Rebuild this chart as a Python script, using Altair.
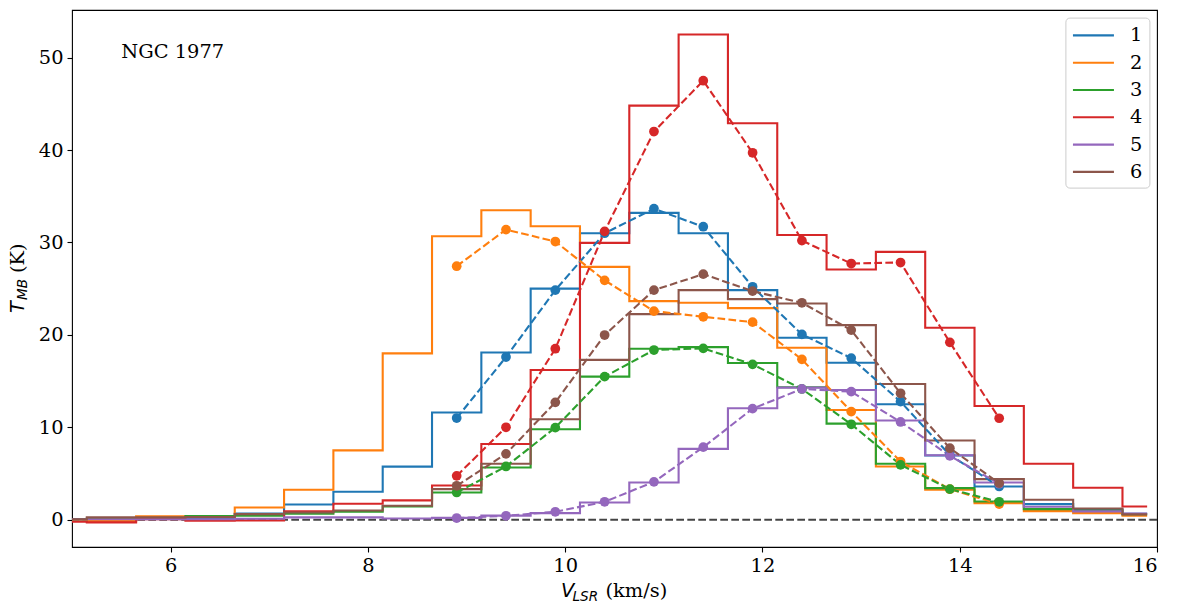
import altair as alt
import pandas as pd

# ---------------- data ----------------
series_names = ["1", "2", "3", "4", "5", "6"]
colors = ["#1f77b4", "#ff7f0e", "#2ca02c", "#d62728", "#9467bd", "#8c564b"]

# channel centres of the spectra (km/s)
v_centers = [4.9, 5.4, 5.9, 6.4, 6.9, 7.4, 7.9, 8.4, 8.9, 9.4, 9.9, 10.4,
             10.9, 11.4, 11.9, 12.4, 12.9, 13.4, 13.9, 14.4, 14.9, 15.4, 15.9]

spec_1 = [0.05, 0.1, 0.1, 0.15, 0.68, 1.65, 3.02, 5.75, 11.6, 18.1, 25.0, 31.0,
          33.2, 31.0, 24.84, 19.69, 16.99, 12.49, 6.95, 3.6, 1.69, 1.1, 0.65]
spec_2 = [0.0, -0.15, 0.36, 0.3, 1.33, 3.24, 7.5, 18.0, 30.67, 33.48, 31.75, 27.36,
          23.65, 23.47, 22.9, 18.6, 11.88, 5.76, 3.24, 1.8, 0.93, 0.72, 0.43]
spec_3 = [0.05, 0.1, 0.15, 0.4, 0.43, 0.65, 0.86, 1.45, 2.95, 5.65, 9.79, 15.48,
          18.5, 18.68, 16.95, 14.33, 10.4, 6.05, 3.42, 1.98, 1.15, 1.0, 0.6]
spec_4 = [-0.22, -0.29, 0.07, -0.11, -0.07, 0.9, 1.73, 2.09, 3.7, 8.2, 16.2, 29.95,
          44.8, 52.5, 42.9, 30.8, 27.07, 28.98, 20.77, 12.31, 6.05, 3.46, 1.44]
spec_5 = [0.05, 0.05, 0.05, 0.05, 0.1, 0.25, 0.25, 0.14, 0.2, 0.45, 0.72, 1.87,
          4.03, 7.67, 12.06, 14.29, 14.04, 10.73, 6.98, 4.03, 1.4, 0.9, 0.68]
spec_6 = [0.05, 0.25, 0.25, 0.3, 0.61, 0.79, 1.0, 1.51, 3.31, 6.05, 10.87, 17.3,
          22.25, 24.84, 23.87, 23.4, 21.06, 14.69, 8.57, 4.39, 2.16, 1.22, 0.58]

# fitted / smoothed profiles (dashed with markers)
v_fit = [8.9, 9.4, 9.9, 10.4, 10.9, 11.4, 11.9, 12.4, 12.9, 13.4, 13.9, 14.4]

fit_1 = [11.0, 17.6, 24.84, 31.0, 33.65, 31.7, 25.2, 20.05, 17.49, 12.78, 7.0, 3.6]
fit_2 = [27.43, 31.39, 30.1, 25.9, 22.57, 21.96, 21.38, 17.35, 11.7, 6.3, 3.3, 1.7]
fit_3 = [2.95, 5.76, 9.97, 15.48, 18.36, 18.54, 16.81, 14.15, 10.33, 5.94, 3.31, 1.94]
fit_4 = [4.75, 10.0, 18.5, 31.2, 42.0, 47.5, 39.7, 30.2, 27.72, 27.83, 19.19, 10.98]
fit_5 = [0.18, 0.43, 0.86, 1.94, 4.1, 7.85, 12.02, 14.15, 13.86, 10.58, 6.91, 3.9]
fit_6 = [3.67, 7.13, 12.7, 19.98, 24.84, 26.57, 24.73, 23.47, 20.52, 13.68, 7.74, 3.96]

x_ticks = [6, 8, 10, 12, 14, 16]
y_ticks = [0, 10, 20, 30, 40, 50]
label_text = "NGC 1977"

# ---------------- tables ----------------
specs = [spec_1, spec_2, spec_3, spec_4, spec_5, spec_6]
fits = [fit_1, fit_2, fit_3, fit_4, fit_5, fit_6]

spec_rows = []
for name, vals in zip(series_names, specs):
    for i, (v, t) in enumerate(zip(v_centers, vals)):
        spec_rows.append({"series": name, "v": v, "T": t, "order": i})
spec_df = pd.DataFrame(spec_rows)

fit_rows = []
for name, vals in zip(series_names, fits):
    for i, (v, t) in enumerate(zip(v_fit, vals)):
        fit_rows.append({"series": name, "v": v, "T": t, "order": i})
fit_df = pd.DataFrame(fit_rows)

FONT_SERIF = "DejaVu Serif"
FS = 19.4
LW = 2.1
DASH = [7.7, 3.3]

W, H = 1085, 537

xscale = alt.Scale(domain=[5, 16], nice=False, zero=False)
yscale = alt.Scale(domain=[-2.95, 55.15], nice=False, zero=False)

x_axis = alt.Axis(values=x_ticks, format="d", title=None, grid=False, domain=False,
                  tickSize=5, tickWidth=1.1, tickColor="black",
                  labelFont=FONT_SERIF, labelFontSize=FS, labelColor="black",
                  labelPadding=4)
y_axis = alt.Axis(values=y_ticks, format="d", title=None, grid=False, domain=False,
                  tickSize=5, tickWidth=1.1, tickColor="black",
                  labelFont=FONT_SERIF, labelFontSize=FS, labelColor="black",
                  labelPadding=4)

color_legend = alt.Legend(
    title=None, orient="none", legendX=993.4, legendY=7.6,
    symbolType="M-2,0L2,0", symbolSize=420, symbolStrokeWidth=LW,
    symbolOffset=10.25, labelOffset=25,
    labelFont=FONT_SERIF, labelFontSize=FS, labelColor="black",
    padding=6.3, rowPadding=6.3,
    strokeColor="#cccccc", fillColor="rgba(255,255,255,0.8)", cornerRadius=4,
)

steps = alt.Chart(spec_df).mark_line(interpolate="step", strokeWidth=LW, clip=True).encode(
    x=alt.X("v:Q", scale=xscale, axis=x_axis),
    y=alt.Y("T:Q", scale=yscale, axis=y_axis),
    color=alt.Color("series:N", scale=alt.Scale(domain=series_names, range=colors),
                    legend=color_legend),
    order="order:Q",
)

fit_lines = alt.Chart(fit_df).mark_line(strokeDash=DASH, strokeWidth=LW, clip=True).encode(
    x=alt.X("v:Q", scale=xscale, axis=x_axis),
    y=alt.Y("T:Q", scale=yscale, axis=y_axis),
    color=alt.Color("series:N", scale=alt.Scale(domain=series_names, range=colors),
                    legend=None),
    order="order:Q",
)

fit_points = alt.Chart(fit_df).mark_circle(size=95, opacity=1, clip=True).encode(
    x=alt.X("v:Q", scale=xscale, axis=x_axis),
    y=alt.Y("T:Q", scale=yscale, axis=y_axis),
    color=alt.Color("series:N", scale=alt.Scale(domain=series_names, range=colors),
                    legend=None),
)

zero_line = alt.Chart().mark_rule(strokeDash=DASH, strokeWidth=1.8, color="#444444").encode(
    y=alt.datum(0, scale=yscale, axis=y_axis),
)

name_text = alt.Chart().mark_text(text=label_text, align="left", baseline="alphabetic",
                                  font=FONT_SERIF, fontSize=FS, color="black").encode(
    x=alt.datum(5.5, axis=x_axis), y=alt.datum(50, axis=y_axis),
)

# axis titles (mathtext-style subscripts)
xt_v = alt.Chart().mark_text(text="V", align="left", baseline="alphabetic", font="DejaVu Sans",
                             fontStyle="italic", fontSize=FS, color="black").encode(
    x=alt.value(489.0), y=alt.value(587.3))
xt_sub = alt.Chart().mark_text(text="LSR", align="left", baseline="alphabetic", font="DejaVu Sans",
                               fontStyle="italic", fontSize=13.6, color="black").encode(
    x=alt.value(500.5), y=alt.value(590.7))
xt_unit = alt.Chart().mark_text(text="(km/s)", align="left", baseline="alphabetic", font=FONT_SERIF,
                                fontSize=FS, color="black").encode(
    x=alt.value(533.5), y=alt.value(587.3))

yt_t = alt.Chart().mark_text(text="T", align="left", baseline="alphabetic", angle=270,
                             font="DejaVu Sans", fontStyle="italic", fontSize=FS,
                             color="black").encode(x=alt.value(-48.0), y=alt.value(303.0))
yt_sub = alt.Chart().mark_text(text="MB", align="left", baseline="alphabetic", angle=270,
                               font="DejaVu Sans", fontStyle="italic", fontSize=13.6,
                               color="black").encode(x=alt.value(-44.6), y=alt.value(290.0))
yt_unit = alt.Chart().mark_text(text="(K)", align="left", baseline="alphabetic", angle=270,
                                font=FONT_SERIF, fontSize=FS,
                                color="black").encode(x=alt.value(-48.0), y=alt.value(263.0))

chart = alt.layer(
    zero_line, steps, fit_lines, fit_points, name_text,
    xt_v, xt_sub, xt_unit, yt_t, yt_sub, yt_unit,
).resolve_scale(color="independent").properties(
    width=W, height=H,
    autosize=alt.AutoSizeParams(type="none"),
    padding={"left": 64, "top": 2, "right": 5, "bottom": 58},
    background="white",
).configure(
    font=FONT_SERIF,
).configure_view(stroke="black", strokeWidth=1.1).configure_axis(
    labelFont=FONT_SERIF, labelFontSize=FS, labelColor="black", grid=False,
).configure_axisX(
    labelFont=FONT_SERIF, labelFontSize=FS,
).configure_axisY(
    labelFont=FONT_SERIF, labelFontSize=FS,
)

chart.save("out.html", embed_options={"renderer": "svg", "actions": False})
